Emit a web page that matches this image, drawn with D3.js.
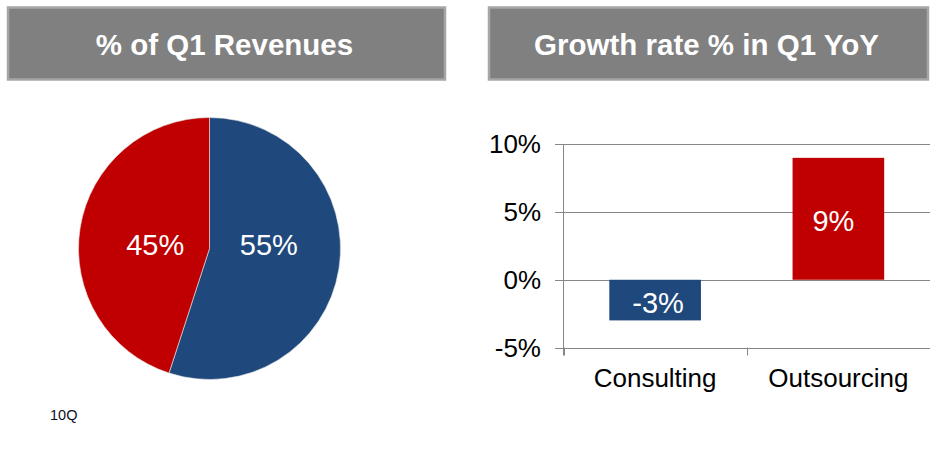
<!DOCTYPE html>
<html>
<head>
<meta charset="utf-8">
<script src="https://cdn.jsdelivr.net/npm/d3@7"></script>
<style>
  body { margin: 0; background: #fff; }
  svg { display: block; font-family: "Liberation Sans", Arial, sans-serif; }
</style>
</head>
<body>
<div id="chart"></div>
<script>
// pie: share of Q1 revenues
var pieLabels = ["Outsourcing", "Consulting"];
var pieValues = [55, 45];
var pieColors = ["#1f497d", "#c00000"];

// bars: growth rate in Q1 YoY
var barCategories = ["Consulting", "Outsourcing"];
var barValues = [-3, 9];
var barColors = ["#1f497d", "#c00000"];
var yTicks = [-5, 0, 5, 10];

var titles = ["% of Q1 Revenues", "Growth rate % in Q1 YoY"];
var footnote = "10Q";

var width = 939, height = 473;

var svg = d3.select("#chart")
    .append("svg")
    .attr("width", width)
    .attr("height", height);

// **** title boxes ****
var boxes = [{x: 8, w: 437}, {x: 489, w: 439}];
boxes.forEach(function(b, i){
    svg.append("rect")
        .attr("x", b.x)
        .attr("y", 7.5)
        .attr("width", b.w)
        .attr("height", 72)
        .attr("fill", "#808080")
        .attr("stroke", "#a6a6a6")
        .attr("stroke-width", 2.5);
    svg.append("text")
        .attr("x", b.x + b.w / 2 - 2)
        .attr("y", 55)
        .attr("text-anchor", "middle")
        .attr("fill", "#fff")
        .attr("font-weight", "bold")
        .attr("font-size", 29.5)
        .text(titles[i]);
});

// **** pie ****
var cx = 209.5, cy = 248.5, radius = 131;
var pie = d3.pie().sort(null).value(function(d){ return d; });
var arc = d3.arc().innerRadius(0).outerRadius(radius);
var labelArc = d3.arc().innerRadius(58).outerRadius(58);
var pieG = svg.append("g").attr("transform", "translate(" + cx + "," + cy + ")");
var slices = pie(pieValues);

pieG.selectAll("path")
    .data(slices)
    .enter()
    .append("path")
    .attr("d", arc)
    .attr("fill", function(d, i){ return pieColors[i]; })
    .attr("stroke", "#e8e8e8")
    .attr("stroke-width", 0.6);

// labels sit on the slice centroid horizontally, level with the centre
pieG.selectAll("text")
    .data(slices)
    .enter()
    .append("text")
    .attr("x", function(d, i){ return labelArc.centroid(d)[0] + (i == 1 ? 3 : 2); })
    .attr("y", 6.5)
    .attr("text-anchor", "middle")
    .attr("fill", "#fff")
    .attr("font-size", 29)
    .text(function(d){ return d.value + "%"; });

svg.append("text")
    .attr("x", 50)
    .attr("y", 420)
    .attr("font-size", 14.5)
    .attr("fill", "#0d0d26")
    .text(footnote);

// **** bars ****
var x0 = 563.5, x1 = 930;
var x = d3.scaleBand()
    .domain(barCategories)
    .range([x0, x1])
    .paddingInner(0.5)
    .paddingOuter(0.25);
var y = d3.scaleLinear()
    .domain([-5, 10])
    .range([347.5, 144.3]);

var barG = svg.append("g");

// gridlines
barG.selectAll("line.grid")
    .data(yTicks)
    .enter()
    .append("line")
    .attr("class", "grid")
    .attr("x1", 555)
    .attr("x2", x1)
    .attr("y1", function(d){ return Math.round(y(d)) + 0.5; })
    .attr("y2", function(d){ return Math.round(y(d)) + 0.5; })
    .attr("stroke", "#868686")
    .attr("stroke-width", 1);

// y axis line
barG.append("line")
    .attr("x1", x0).attr("x2", x0)
    .attr("y1", y(10)).attr("y2", y(-5) + 8)
    .attr("stroke", "#868686");

// category tick marks between the bands
var catEdges = barCategories.map(function(d, i){ return x0 + i * (x1 - x0) / barCategories.length; });
barG.selectAll("line.ctick")
    .data(catEdges)
    .enter()
    .append("line")
    .attr("class", "ctick")
    .attr("x1", function(d){ return Math.round(d) + 0.5; })
    .attr("x2", function(d){ return Math.round(d) + 0.5; })
    .attr("y1", y(-5))
    .attr("y2", y(-5) + 8)
    .attr("stroke", "#868686");

// y tick labels
barG.selectAll("text.ylab")
    .data(yTicks)
    .enter()
    .append("text")
    .attr("class", "ylab")
    .attr("x", 541)
    .attr("y", function(d){ return y(d) + 9; })
    .attr("text-anchor", "end")
    .attr("font-size", 26)
    .attr("fill", "#000")
    .text(function(d){ return d + "%"; });

// bars
barG.selectAll("rect.bar")
    .data(barValues)
    .enter()
    .append("rect")
    .attr("class", "bar")
    .attr("x", function(d, i){ return x(barCategories[i]); })
    .attr("width", x.bandwidth())
    .attr("y", function(d){ return y(Math.max(0, d)); })
    .attr("height", function(d){ return Math.abs(y(d) - y(0)); })
    .attr("fill", function(d, i){ return barColors[i]; });

// bar value labels
barG.selectAll("text.val")
    .data(barValues)
    .enter()
    .append("text")
    .attr("class", "val")
    .attr("x", function(d, i){ return x(barCategories[i]) + x.bandwidth() / 2 + (d < 0 ? 3 : -5); })
    .attr("y", function(d){ return d < 0 ? y(d) - 7 : y(d) + 73; })
    .attr("text-anchor", "middle")
    .attr("font-size", 29)
    .attr("fill", "#fff")
    .text(function(d){ return d + "%"; });

// category labels
barG.selectAll("text.cat")
    .data(barCategories)
    .enter()
    .append("text")
    .attr("class", "cat")
    .attr("x", function(d){ return x(d) + x.bandwidth() / 2; })
    .attr("y", 387)
    .attr("text-anchor", "middle")
    .attr("font-size", 26)
    .attr("fill", "#000")
    .text(function(d){ return d; });
</script>
</body>
</html>
